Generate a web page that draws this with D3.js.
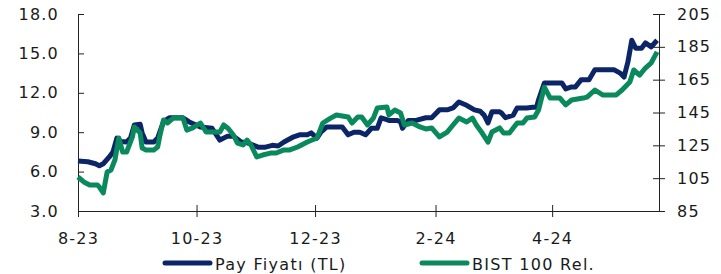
<!DOCTYPE html>
<html>
<head>
<meta charset="utf-8">
<script src="https://cdn.jsdelivr.net/npm/d3@7"></script>
<style>
  body { margin: 0; background: #fff; }
  text { font-family: "DejaVu Sans", Verdana, sans-serif; fill: #1a1a1a; }
</style>
</head>
<body>
<div id="chart"></div>
<script>
var svgWidth = 721;
var svgHeight = 274;

// Pay Fiyatı (TL) - left axis
var payDates = ["2023-08-01","2023-08-06","2023-08-10","2023-08-12","2023-08-14","2023-08-17","2023-08-19","2023-08-21","2023-08-23","2023-08-26",
  "2023-08-28","2023-08-30","2023-09-02","2023-09-03","2023-09-05","2023-09-09","2023-09-11","2023-09-14","2023-09-17","2023-09-24",
  "2023-09-27","2023-10-03","2023-10-09","2023-10-13","2023-10-17","2023-10-20","2023-10-24","2023-10-27","2023-11-02","2023-11-05",
  "2023-11-09","2023-11-12","2023-11-15","2023-11-20","2023-11-23","2023-11-27","2023-11-29","2023-12-02","2023-12-04","2023-12-07",
  "2023-12-11","2023-12-15","2023-12-18","2023-12-21","2023-12-24","2023-12-27","2023-12-30","2024-01-02","2024-01-04","2024-01-08",
  "2024-01-12","2024-01-14","2024-01-15","2024-01-18","2024-01-22","2024-01-27","2024-01-30","2024-02-03","2024-02-07","2024-02-10",
  "2024-02-13","2024-02-17","2024-02-21","2024-02-24","2024-02-26","2024-02-28","2024-03-01","2024-03-05","2024-03-06","2024-03-08",
  "2024-03-12","2024-03-14","2024-03-19","2024-03-22","2024-03-24","2024-03-25","2024-03-28","2024-04-02","2024-04-06","2024-04-08",
  "2024-04-11","2024-04-13","2024-04-16","2024-04-20","2024-04-23","2024-04-28","2024-05-03","2024-05-06","2024-05-08","2024-05-10",
  "2024-05-12","2024-05-14","2024-05-17","2024-05-19","2024-05-22","2024-05-25"];
var payValues = [6.8,6.75,6.6,6.45,6.6,7.1,7.5,8.55,8.3,8.25,
  8.55,9.55,9.6,8.95,8.25,8.25,8.55,9.8,10.1,10.1,
  9.8,9.4,9.3,8.4,8.7,8.7,8.25,8.2,7.85,7.85,
  8.0,7.95,8.25,8.65,8.8,8.8,8.95,8.55,9.0,9.4,
  9.4,9.4,8.8,9.0,9.0,8.8,9.3,9.3,10.1,9.9,
  9.9,9.8,9.3,9.9,9.9,10.1,10.1,10.7,10.7,10.85,
  11.3,11.05,10.7,10.6,10.3,9.7,10.55,10.55,10.45,10.1,
  10.3,10.85,10.85,10.9,10.9,11.45,12.75,12.75,12.75,12.3,
  12.45,12.45,13.0,13.0,13.75,13.75,13.75,13.5,13.2,14.35,
  16.0,15.4,15.4,15.8,15.5,16.0];

// BIST 100 Rel. - right axis
var bistDates = ["2023-08-01","2023-08-04","2023-08-07","2023-08-11","2023-08-12","2023-08-14","2023-08-16","2023-08-18","2023-08-20","2023-08-22",
  "2023-08-24","2023-08-26","2023-08-29","2023-08-30","2023-09-02","2023-09-03","2023-09-05","2023-09-09","2023-09-11","2023-09-12",
  "2023-09-14","2023-09-16","2023-09-19","2023-09-24","2023-09-26","2023-09-29","2023-10-03","2023-10-06","2023-10-10","2023-10-13",
  "2023-10-15","2023-10-17","2023-10-20","2023-10-22","2023-10-25","2023-10-27","2023-10-29","2023-11-01","2023-11-04","2023-11-08",
  "2023-11-11","2023-11-15","2023-11-18","2023-11-22","2023-11-27","2023-12-02","2023-12-05","2023-12-09","2023-12-12","2023-12-18",
  "2023-12-20","2023-12-23","2023-12-25","2023-12-28","2023-12-31","2024-01-02","2024-01-07","2024-01-08","2024-01-11","2024-01-14",
  "2024-01-16","2024-01-20","2024-01-24","2024-01-27","2024-01-30","2024-02-03","2024-02-07","2024-02-10","2024-02-13","2024-02-17",
  "2024-02-20","2024-02-22","2024-02-25","2024-02-28","2024-03-01","2024-03-05","2024-03-07","2024-03-10","2024-03-14","2024-03-17",
  "2024-03-19","2024-03-23","2024-03-25","2024-03-28","2024-03-31","2024-04-05","2024-04-08","2024-04-11","2024-04-17","2024-04-19",
  "2024-04-23","2024-04-27","2024-05-04","2024-05-07","2024-05-11","2024-05-13","2024-05-16","2024-05-19","2024-05-22","2024-05-25"];
var bistValues = [105.7,102.7,100.8,100.8,99.6,96.0,108.8,110.0,116.1,129.5,
  120.9,120.9,130.1,136.2,132.5,123.4,122.2,122.2,124.0,130.1,
  140.4,138.6,141.6,141.6,134.3,135.6,138.6,133.1,133.1,133.1,
  137.4,135.6,131.3,126.4,125.2,128.2,125.2,117.9,119.1,120.3,
  120.3,122.2,122.2,124.0,127.0,129.5,138.6,141.6,143.5,142.3,
  138.6,142.3,142.3,137.4,141.6,147.7,148.3,143.5,146.5,144.7,
  137.4,138.6,136.2,135.0,135.6,130.1,133.1,137.4,141.6,139.2,
  141.6,137.4,132.5,127.0,133.1,135.6,132.5,132.5,138.6,138.6,
  141.6,142.3,146.5,160.5,153.8,153.8,149.6,152.6,153.8,154.4,
  158.7,155.7,155.7,158.7,163.6,170.9,167.8,172.1,175.2,181.9];

var leftTicks = [3, 6, 9, 12, 15, 18];
var rightTicks = [85, 105, 125, 145, 165, 185, 205];
var xTickDates = ["2023-08-01","2023-10-01","2023-12-01","2024-02-01","2024-04-01"];
var xTickLabels = ["8-23","10-23","12-23","2-24","4-24"];
var seriesNames = ["Pay Fiyatı (TL)", "BIST 100 Rel."];
var seriesColors = ["#0b2566", "#0a8a5c"];

var margin = { top: 14, right: 62, bottom: 63, left: 78 };
var width = svgWidth - margin.left - margin.right;
var height = svgHeight - margin.top - margin.bottom;

var parse = d3.timeParse("%Y-%m-%d");

var svg = d3.select("#chart")
  .append("svg")
  .attr("width", svgWidth)
  .attr("height", svgHeight);

var chartGroup = svg.append("g")
  .attr("transform", `translate(${margin.left}, ${margin.top})`);

var x = d3.scaleTime()
  .domain([parse("2023-08-01"), parse("2024-05-26")])
  .range([0, width]);

var yLeft = d3.scaleLinear().domain([3, 18]).range([height, 0]);
var yRight = d3.scaleLinear().domain([85, 205]).range([height, 0]);

// axes, ticks cross the line
var xAxis = chartGroup.append("g")
  .attr("transform", "translate(0," + height + ")")
  .call(d3.axisBottom(x)
    .tickValues(xTickDates.map(parse))
    .tickFormat(function(d, i) { return xTickLabels[i]; })
    .tickSize(6).tickSizeOuter(0).tickPadding(16));
xAxis.selectAll(".tick line").attr("y1", -6);

var leftAxis = chartGroup.append("g")
  .call(d3.axisLeft(yLeft).tickValues(leftTicks).tickFormat(d3.format(".1f"))
    .tickSize(6).tickSizeOuter(0).tickPadding(13));
leftAxis.selectAll(".tick line").attr("x2", 6);

var rightAxis = chartGroup.append("g")
  .attr("transform", "translate(" + width + ",0)")
  .call(d3.axisRight(yRight).tickValues(rightTicks)
    .tickSize(6).tickSizeOuter(0).tickPadding(12));
rightAxis.selectAll(".tick line").attr("x2", 6).attr("x1", -6);

svg.selectAll(".domain").attr("stroke", "#222");
svg.selectAll(".tick line").attr("stroke", "#222");
svg.selectAll(".tick text")
  .style("font-size", "16px")
  .style("letter-spacing", "1.2px")
  .attr("fill", "#1a1a1a");

// lines
var payData = payDates.map(function(d, i) { return { date: parse(d), value: payValues[i] }; });
var bistData = bistDates.map(function(d, i) { return { date: parse(d), value: bistValues[i] }; });

var payLine = d3.line()
  .x(function(d) { return x(d.date); })
  .y(function(d) { return yLeft(d.value); });
var bistLine = d3.line()
  .x(function(d) { return x(d.date); })
  .y(function(d) { return yRight(d.value); });

chartGroup.append("path")
  .datum(payData)
  .attr("fill", "none")
  .attr("stroke", seriesColors[0])
  .attr("stroke-width", 5)
  .attr("stroke-linejoin", "round")
  .attr("d", payLine);

chartGroup.append("path")
  .datum(bistData)
  .attr("fill", "none")
  .attr("stroke", seriesColors[1])
  .attr("stroke-width", 5)
  .attr("stroke-linejoin", "round")
  .attr("d", bistLine);

// legend
var legendX = [165, 422];
var legend = svg.selectAll(".legend")
  .data(seriesNames)
  .enter().append("g")
  .attr("class", "legend")
  .attr("transform", function(d, i) { return "translate(" + legendX[i] + ",263)"; });

legend.append("line")
  .attr("x1", 0).attr("x2", 45)
  .attr("stroke", function(d, i) { return seriesColors[i]; })
  .attr("stroke-width", 5)
  .attr("stroke-linecap", "round");

legend.append("text")
  .attr("x", 50)
  .attr("y", 7)
  .style("font-size", "16px")
  .style("letter-spacing", "1.3px")
  .text(function(d) { return d; });
</script>
</body>
</html>
